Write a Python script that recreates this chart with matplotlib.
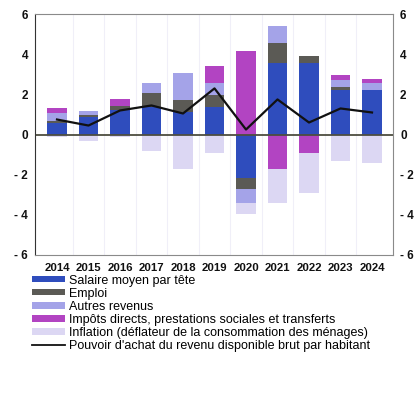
import numpy as np
import matplotlib.pyplot as plt
from matplotlib.lines import Line2D
from matplotlib.patches import Patch

plt.rcParams['font.family'] = ['Liberation Sans', 'DejaVu Sans']

years = ['2014', '2015', '2016', '2017', '2018', '2019', '2020', '2021', '2022', '2023', '2024']

# contributions, in points
salaire = [0.6, 0.85, 1.2, 1.35, 1.1, 1.35, -2.15, 3.55, 3.55, 2.2, 2.2]
emploi = [0.1, 0.1, 0.2, 0.7, 0.6, 0.6, -0.55, 1.0, 0.35, 0.15, 0.0]
autres = [0.35, 0.2, 0.0, 0.5, 1.35, 0.6, -0.7, 0.85, 0.0, 0.35, 0.35]
impots = [0.25, 0.0, 0.35, 0.0, 0.0, 0.85, 4.15, -1.7, -0.9, 0.25, 0.2]
inflation = [-0.1, -0.3, -0.1, -0.8, -1.7, -0.9, -0.55, -1.7, -2.0, -1.3, -1.4]
pouvoir = [0.75, 0.45, 1.2, 1.45, 1.05, 2.3, 0.25, 1.75, 0.6, 1.3, 1.1]

labels = ['Salaire moyen par tête',
          'Emploi',
          'Autres revenus',
          'Impôts directs, prestations sociales et transferts',
          'Inflation (déflateur de la consommation des ménages)']
line_label = "Pouvoir d'achat du revenu disponible brut par habitant"
colors = ['#2f4dbd', '#5b5a55', '#a4a3e8', '#b244c2', '#dcd7f3']

ticks = [6, 4, 2, 0, -2, -4, -6]
tick_labels = ['6', '4', '2', '0', '- 2', '- 4', '- 6']

fig = plt.figure(figsize=(4.16, 3.94), dpi=100)
ax = fig.add_axes([0.084, 0.353, 0.861, 0.611])

x = np.arange(len(years))
pos = np.zeros(len(years))
neg = np.zeros(len(years))
for vals, col in zip([salaire, emploi, autres, impots, inflation], colors):
    v = np.array(vals)
    bottom = np.where(v >= 0, pos, neg)
    ax.bar(x, v, 0.62, bottom=bottom, color=col, linewidth=0)
    pos += np.where(v >= 0, v, 0)
    neg += np.where(v < 0, v, 0)

ax.plot(x, pouvoir, color='#111111', lw=1.6)
ax.axhline(0, color='#4d4d40', lw=1.3)

ax.set_xlim(-0.7, 10.67)
ax.set_ylim(-6, 6)
ax.set_yticks(ticks)
ax.set_yticklabels(tick_labels)
ax.set_xticks(x)
ax.set_xticklabels(years)
ax.tick_params(axis='both', length=0, colors='#111111')
ax.tick_params(axis='y', labelright=True, pad=5, labelsize=8.5)
ax.tick_params(axis='x', pad=6, labelsize=8.2)
for lab in ax.get_yticklabels() + ax.get_xticklabels():
    lab.set_fontweight('bold')

for side in ['top', 'right', 'bottom']:
    ax.spines[side].set_color('#8a8a8a')
    ax.spines[side].set_linewidth(0.8)
ax.spines['left'].set_color('#333333')

for xi in x[:-1] + 0.5:
    ax.axvline(xi, color='#f0eff8', lw=0.8, zorder=0)

handles = [Patch(facecolor=c, edgecolor='none') for c in colors]
handles.append(Line2D([0], [0], color='#111111', lw=1.3))
fig.legend(handles, labels + [line_label], loc='upper left',
           bbox_to_anchor=(0.078, 0.303), frameon=False, fontsize=9,
           handlelength=2.6, handleheight=0.4, handletextpad=0.3,
           labelspacing=0.09, borderaxespad=0, borderpad=0)

fig.savefig('out.png', dpi=100)
